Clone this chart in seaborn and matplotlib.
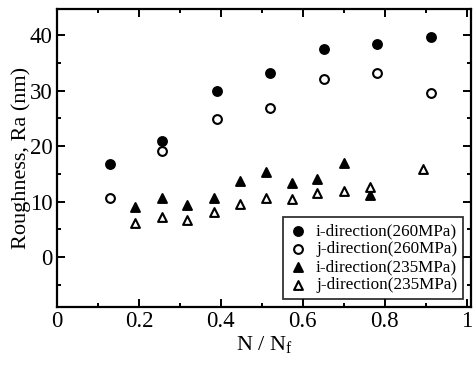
import matplotlib
matplotlib.use("Agg")
import matplotlib.pyplot as plt
import seaborn as sns
import pandas as pd
from matplotlib.ticker import MultipleLocator

sns.set_theme(style="ticks")
plt.rcParams['font.family'] = ['Liberation Serif', 'DejaVu Serif']
plt.rcParams['mathtext.fontset'] = 'custom'
plt.rcParams['mathtext.rm'] = 'Liberation Serif'
plt.rcParams['mathtext.it'] = 'Liberation Serif'
plt.rcParams['text.color'] = 'black'
plt.rcParams['axes.labelcolor'] = 'black'

x_260 = [0.13, 0.256, 0.39, 0.52, 0.651, 0.78, 0.912]
i_260 = [16.8, 20.9, 29.9, 33.1, 37.6, 38.5, 39.6]
j_260 = [10.7, 19.2, 24.9, 26.9, 32.1, 33.1, 29.6]

x_i235 = [0.19, 0.256, 0.318, 0.383, 0.446, 0.51, 0.573, 0.634, 0.70, 0.763]
i_235 = [9.0, 10.6, 9.4, 10.6, 13.7, 15.3, 13.3, 14.0, 16.9, 11.2]

x_j235 = [0.19, 0.256, 0.318, 0.383, 0.446, 0.51, 0.573, 0.634, 0.70, 0.763, 0.893]
j_235 = [6.1, 7.2, 6.7, 8.1, 9.5, 10.6, 10.4, 11.5, 11.9, 12.6, 15.9]

labels = ["i-direction(260MPa)", "j-direction(260MPa)",
          "i-direction(235MPa)", "j-direction(235MPa)"]

fig = plt.figure(figsize=(4.73, 3.65), dpi=100)
ax = fig.add_axes([0.1205, 0.159, 0.875, 0.816])

series = [
    (x_260, i_260, labels[0], 'o', 'black'),
    (x_260, j_260, labels[1], 'o', 'white'),
    (x_i235, i_235, labels[2], '^', 'black'),
    (x_j235, j_235, labels[3], '^', 'white'),
]
for xs, ys, lab, mk, fc in series:
    df = pd.DataFrame({'x': xs, 'y': ys})
    sns.scatterplot(data=df, x='x', y='y', ax=ax, marker=mk, s=40,
                    color=fc, edgecolor='black', linewidth=1.5, label=lab)

ax.set_xlim(0, 1.01)
ax.set_ylim(-9, 44.7)
ax.xaxis.set_major_locator(MultipleLocator(0.2))
ax.xaxis.set_minor_locator(MultipleLocator(0.1))
ax.yaxis.set_major_locator(MultipleLocator(10))
ax.yaxis.set_minor_locator(MultipleLocator(5))
ax.set_xticks([0, 0.2, 0.4, 0.6, 0.8, 1.0])
ax.set_xticklabels(['0', '0.2', '0.4', '0.6', '0.8', '1'])
ax.tick_params(which='both', direction='in', top=True, right=True,
               labelsize=16.5, colors='black', width=1.4)
ax.tick_params(which='major', length=6, pad=3)
ax.tick_params(which='minor', length=3)
for s in ax.spines.values():
    s.set_linewidth(1.6)
    s.set_color('black')

ax.set_xlabel('N / N$_f$', fontsize=16, labelpad=1, color='black')
ax.set_ylabel('Roughness, Ra (nm)', fontsize=16, labelpad=-1, color='black')

leg = ax.legend(loc='lower right', fontsize=12.3, frameon=True, fancybox=False,
                edgecolor='black', handletextpad=0.5, borderpad=0.35,
                labelspacing=0.12, handlelength=1.1, borderaxespad=0.45)
leg.get_frame().set_linewidth(1.3)
for t in leg.get_texts():
    t.set_color('black')

fig.savefig('out.png', dpi=100)
